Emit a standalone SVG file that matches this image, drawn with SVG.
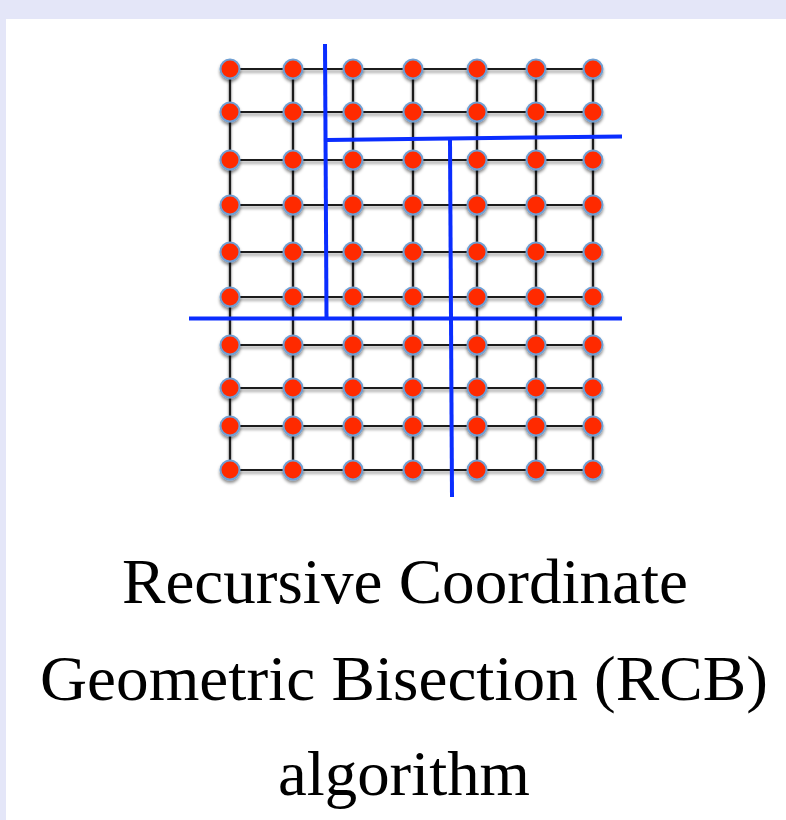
<svg xmlns="http://www.w3.org/2000/svg" width="786" height="820" viewBox="0 0 786 820">
<defs>
<filter id="sh" x="-50%" y="-50%" width="200%" height="200%">
<feDropShadow dx="0" dy="2.5" stdDeviation="1.8" flood-color="#000" flood-opacity="0.45"/>
</filter>
<style>
.n{fill:#ff2a00;stroke:#6f9fd3;stroke-width:2}
.g{stroke:#1a1a1a;stroke-width:2.2;fill:none}
.b{stroke:#0a2dff;stroke-width:4;fill:none;stroke-linecap:butt}
.t{font-family:"Liberation Serif","DejaVu Serif",serif;font-size:64px;fill:#000;text-anchor:middle}
</style>
</defs>
<rect x="0" y="0" width="786" height="820" fill="#e4e6f8"/>
<rect x="6" y="19" width="780" height="801" fill="#ffffff"/>
<g id="connectors">
<g id="grid" filter="url(#sh)">
<path class="g" d="M230 69H593M230 112H593M230 160H593M230 205H593M230 252H593M230 297H593M230 345H593M230 388H593M230 426H593M230 470H593"/>
<path class="g" d="M230 69V470M293 69V470M353 69V470M413 69V470M477 69V470M536 69V470M593 69V470"/>
</g>
<g id="cuts">
<path class="b" d="M325 44L326.5 318"/>
<path class="b" d="M189 318.5H622"/>
<path class="b" d="M327 140L622 136.5"/>
<path class="b" d="M450 140L452 497"/>
</g>
</g>
<g id="nodes" filter="url(#sh)">
<g id="n0-0"><circle class="n" cx="230" cy="69" r="9.5"/></g>
<g id="n0-1"><circle class="n" cx="293" cy="69" r="9.5"/></g>
<g id="n0-2"><circle class="n" cx="353" cy="69" r="9.5"/></g>
<g id="n0-3"><circle class="n" cx="413" cy="69" r="9.5"/></g>
<g id="n0-4"><circle class="n" cx="477" cy="69" r="9.5"/></g>
<g id="n0-5"><circle class="n" cx="536" cy="69" r="9.5"/></g>
<g id="n0-6"><circle class="n" cx="593" cy="69" r="9.5"/></g>
<g id="n1-0"><circle class="n" cx="230" cy="112" r="9.5"/></g>
<g id="n1-1"><circle class="n" cx="293" cy="112" r="9.5"/></g>
<g id="n1-2"><circle class="n" cx="353" cy="112" r="9.5"/></g>
<g id="n1-3"><circle class="n" cx="413" cy="112" r="9.5"/></g>
<g id="n1-4"><circle class="n" cx="477" cy="112" r="9.5"/></g>
<g id="n1-5"><circle class="n" cx="536" cy="112" r="9.5"/></g>
<g id="n1-6"><circle class="n" cx="593" cy="112" r="9.5"/></g>
<g id="n2-0"><circle class="n" cx="230" cy="160" r="9.5"/></g>
<g id="n2-1"><circle class="n" cx="293" cy="160" r="9.5"/></g>
<g id="n2-2"><circle class="n" cx="353" cy="160" r="9.5"/></g>
<g id="n2-3"><circle class="n" cx="413" cy="160" r="9.5"/></g>
<g id="n2-4"><circle class="n" cx="477" cy="160" r="9.5"/></g>
<g id="n2-5"><circle class="n" cx="536" cy="160" r="9.5"/></g>
<g id="n2-6"><circle class="n" cx="593" cy="160" r="9.5"/></g>
<g id="n3-0"><circle class="n" cx="230" cy="205" r="9.5"/></g>
<g id="n3-1"><circle class="n" cx="293" cy="205" r="9.5"/></g>
<g id="n3-2"><circle class="n" cx="353" cy="205" r="9.5"/></g>
<g id="n3-3"><circle class="n" cx="413" cy="205" r="9.5"/></g>
<g id="n3-4"><circle class="n" cx="477" cy="205" r="9.5"/></g>
<g id="n3-5"><circle class="n" cx="536" cy="205" r="9.5"/></g>
<g id="n3-6"><circle class="n" cx="593" cy="205" r="9.5"/></g>
<g id="n4-0"><circle class="n" cx="230" cy="252" r="9.5"/></g>
<g id="n4-1"><circle class="n" cx="293" cy="252" r="9.5"/></g>
<g id="n4-2"><circle class="n" cx="353" cy="252" r="9.5"/></g>
<g id="n4-3"><circle class="n" cx="413" cy="252" r="9.5"/></g>
<g id="n4-4"><circle class="n" cx="477" cy="252" r="9.5"/></g>
<g id="n4-5"><circle class="n" cx="536" cy="252" r="9.5"/></g>
<g id="n4-6"><circle class="n" cx="593" cy="252" r="9.5"/></g>
<g id="n5-0"><circle class="n" cx="230" cy="297" r="9.5"/></g>
<g id="n5-1"><circle class="n" cx="293" cy="297" r="9.5"/></g>
<g id="n5-2"><circle class="n" cx="353" cy="297" r="9.5"/></g>
<g id="n5-3"><circle class="n" cx="413" cy="297" r="9.5"/></g>
<g id="n5-4"><circle class="n" cx="477" cy="297" r="9.5"/></g>
<g id="n5-5"><circle class="n" cx="536" cy="297" r="9.5"/></g>
<g id="n5-6"><circle class="n" cx="593" cy="297" r="9.5"/></g>
<g id="n6-0"><circle class="n" cx="230" cy="345" r="9.5"/></g>
<g id="n6-1"><circle class="n" cx="293" cy="345" r="9.5"/></g>
<g id="n6-2"><circle class="n" cx="353" cy="345" r="9.5"/></g>
<g id="n6-3"><circle class="n" cx="413" cy="345" r="9.5"/></g>
<g id="n6-4"><circle class="n" cx="477" cy="345" r="9.5"/></g>
<g id="n6-5"><circle class="n" cx="536" cy="345" r="9.5"/></g>
<g id="n6-6"><circle class="n" cx="593" cy="345" r="9.5"/></g>
<g id="n7-0"><circle class="n" cx="230" cy="388" r="9.5"/></g>
<g id="n7-1"><circle class="n" cx="293" cy="388" r="9.5"/></g>
<g id="n7-2"><circle class="n" cx="353" cy="388" r="9.5"/></g>
<g id="n7-3"><circle class="n" cx="413" cy="388" r="9.5"/></g>
<g id="n7-4"><circle class="n" cx="477" cy="388" r="9.5"/></g>
<g id="n7-5"><circle class="n" cx="536" cy="388" r="9.5"/></g>
<g id="n7-6"><circle class="n" cx="593" cy="388" r="9.5"/></g>
<g id="n8-0"><circle class="n" cx="230" cy="426" r="9.5"/></g>
<g id="n8-1"><circle class="n" cx="293" cy="426" r="9.5"/></g>
<g id="n8-2"><circle class="n" cx="353" cy="426" r="9.5"/></g>
<g id="n8-3"><circle class="n" cx="413" cy="426" r="9.5"/></g>
<g id="n8-4"><circle class="n" cx="477" cy="426" r="9.5"/></g>
<g id="n8-5"><circle class="n" cx="536" cy="426" r="9.5"/></g>
<g id="n8-6"><circle class="n" cx="593" cy="426" r="9.5"/></g>
<g id="n9-0"><circle class="n" cx="230" cy="470" r="9.5"/></g>
<g id="n9-1"><circle class="n" cx="293" cy="470" r="9.5"/></g>
<g id="n9-2"><circle class="n" cx="353" cy="470" r="9.5"/></g>
<g id="n9-3"><circle class="n" cx="413" cy="470" r="9.5"/></g>
<g id="n9-4"><circle class="n" cx="477" cy="470" r="9.5"/></g>
<g id="n9-5"><circle class="n" cx="536" cy="470" r="9.5"/></g>
<g id="n9-6"><circle class="n" cx="593" cy="470" r="9.5"/></g>
</g>
<g id="caption">
<text class="t" x="405" y="603" textLength="566" lengthAdjust="spacingAndGlyphs">Recursive Coordinate</text>
<text class="t" x="404" y="700" textLength="728" lengthAdjust="spacingAndGlyphs">Geometric Bisection (RCB)</text>
<text class="t" x="404" y="795" textLength="252" lengthAdjust="spacingAndGlyphs">algorithm</text>
</g>
</svg>
